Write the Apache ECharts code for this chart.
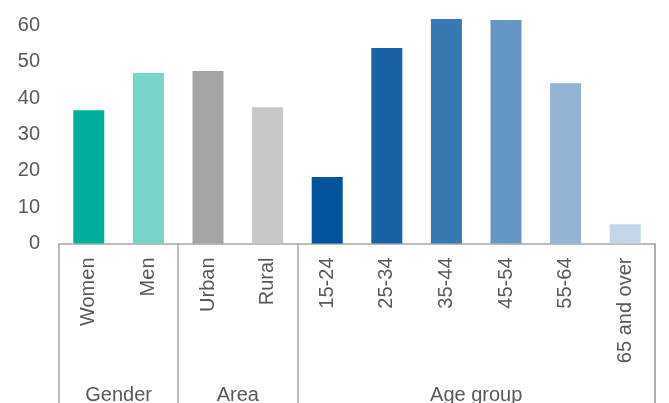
<!DOCTYPE html>
<html lang="en">

<head>
  <meta charset="UTF-8">
  <title>Share by group</title>
  <script src="https://cdn.jsdelivr.net/npm/echarts@6/dist/echarts.min.js"></script>
</head>

<body style="margin:0">
  <div id="chart" style="width: 669px; height: 403px;"></div>

  <script>
    // categories and values
    var categories = ['Women', 'Men', 'Urban', 'Rural', '15-24', '25-34', '35-44', '45-54', '55-64', '65 and over'];
    var values = [36.7, 46.9, 47.5, 37.5, 18.3, 53.8, 61.8, 61.5, 44.1, 5.3];
    var barColors = ['#00ae9b', '#77d4c8', '#a5a5a5', '#c8c8c8', '#00539c', '#1862a4', '#3879b1', '#6497c3', '#93b4d3', '#c3d5e8'];

    // group labels sit under their categories; bounds are category indexes
    var groups = ['Gender', 'Area', 'Age group'];
    var groupBounds = [0, 2, 4, 10];

    var textColor = '#595959';
    var lineColor = '#a6a6a6';
    var font = 'Liberation Sans';

    var myChart = echarts.init(document.getElementById('chart'));

    var groupCenters = [];
    for (var i = 0; i < groups.length; i++) {
      groupCenters.push((groupBounds[i] + groupBounds[i + 1]) / 2);
    }

    myChart.setOption({
      animation: false,
      grid: {
        left: 59,
        right: 14,
        top: -10.8,
        bottom: 159.5,
        containLabel: false,
        outerBoundsMode: 'none'
      },
      xAxis: [{
        type: 'category',
        data: categories,
        axisLine: { lineStyle: { color: lineColor, width: 1.5 } },
        axisTick: { show: false },
        axisLabel: {
          rotate: 90,
          interval: 0,
          margin: 14,
          color: textColor,
          fontFamily: font,
          fontSize: 20
        }
      }, {
        // second axis: group separators and group names
        type: 'value',
        position: 'bottom',
        min: 0,
        max: categories.length,
        axisLine: { show: false },
        splitLine: { show: false },
        axisTick: {
          show: true,
          customValues: groupBounds,
          length: 165,
          lineStyle: { color: lineColor, width: 1.5 }
        },
        axisLabel: {
          customValues: groupCenters,
          formatter: function (v) {
            return groups[groupCenters.indexOf(v)];
          },
          margin: 142,
          color: textColor,
          fontFamily: font,
          fontSize: 20
        }
      }],
      yAxis: {
        type: 'value',
        min: 0,
        max: 70,
        interval: 10,
        axisLine: { show: false },
        axisTick: { show: false },
        splitLine: { show: false },
        axisLabel: {
          margin: 19,
          color: textColor,
          fontFamily: font,
          fontSize: 20
        }
      },
      series: [{
        type: 'bar',
        barWidth: 31,
        data: values.map(function (v, i) {
          return { value: v, itemStyle: { color: barColors[i] } };
        })
      }]
    });

    // echarts drops the tick on the axis end, so draw the closing separator
    // from the axis scales
    var endX = myChart.convertToPixel({ xAxisIndex: 1 }, groupBounds[groupBounds.length - 1]);
    var zeroY = myChart.convertToPixel({ yAxisIndex: 0 }, 0);
    myChart.setOption({
      graphic: [{
        type: 'line',
        shape: { x1: endX, y1: zeroY, x2: endX, y2: zeroY + 165 },
        style: { stroke: lineColor, lineWidth: 1.5 },
        silent: true
      }]
    });
  </script>
</body>

</html>
